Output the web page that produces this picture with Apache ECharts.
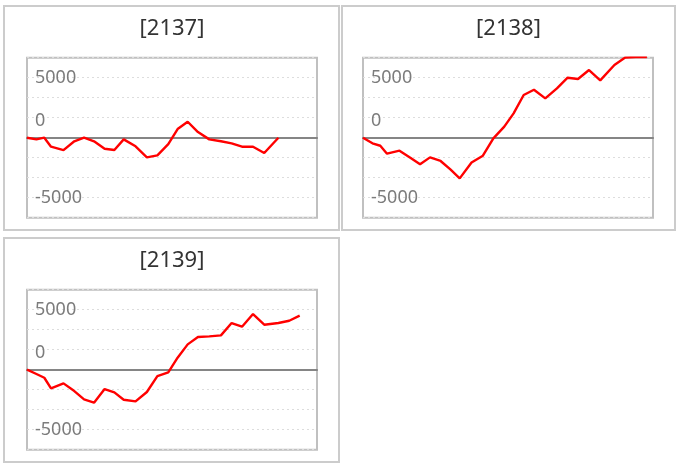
<!DOCTYPE html>
<html>
<head>
<meta charset="utf-8">
<script src="https://cdn.jsdelivr.net/npm/echarts@6/dist/echarts.min.js"></script>
<style>
html,body{margin:0;padding:0;background:#fff;}
#chart{width:679px;height:466px;}
</style>
</head>
<body>
<div id="chart"></div>
<script>
// ---- data ----
const panelTitles = ['[2137]', '[2138]', '[2139]'];
// shared trading-session positions along the time axis
const tradeTimes = [0, 0.9, 1.65, 2.29, 3.48, 4.51, 5.44, 6.39, 7.4, 8.33, 9.22, 10.35, 11.43, 12.43, 13.47, 14.36, 15.32, 16.3, 17.38, 18.49, 19.51, 20.5, 21.55, 22.62, 23.97, 25.0, 26.0, 27.07];
const s2137 = [0, -140, 0, -750, -1030, -300, 0, -300, -920, -1030, -140, -720, -1640, -1470, -530, 720, 1330, 470, -140, -300, -470, -750, -750, -1280, 0];
const s2138 = [0, -470, -670, -1330, -1080, -1670, -2220, -1640, -1940, -2640, -3390, -2060, -1500, -60, 920, 2030, 3560, 4000, 3280, 4110, 5000, 4890, 5640, 4780, 6060, 6680, 6730, 6730];
const s2139 = [0, -360, -670, -1560, -1140, -1780, -2470, -2750, -1610, -1890, -2500, -2640, -1860, -530, -220, 1000, 2110, 2720, 2780, 2860, 3890, 3580, 4640, 3750, 3890, 4080, 4500];
const seriesList = [s2137, s2138, s2139];
const yTickLabels = [5000, 0, -5000];

// ---- layout ----
const Y_MAX = 20000 / 3;
const Y_INT = 5000 / 3;
const X_MAX = 27.65;
const panels = [
  {x: 4, y: 6, w: 335, h: 224, gl: 27, gt: 57.7, tx: 172, ty: 28.5},
  {x: 342, y: 6, w: 333, h: 224, gl: 363, gt: 57.7, tx: 508.5, ty: 28.5},
  {x: 4, y: 238, w: 335, h: 224, gl: 27, gt: 289.7, tx: 172, ty: 260.5}
];
const FONT = '"Noto Sans", sans-serif';

const chart = echarts.init(document.getElementById('chart'), null, {renderer: 'canvas'});
const grid = [], xAxis = [], yAxis = [], series = [], graphic = [];
panels.forEach((p, i) => {
  graphic.push({type: 'rect', shape: {x: p.x, y: p.y, width: p.w, height: p.h},
    style: {fill: 'none', stroke: '#cccccc', lineWidth: 2}, z: -1});
  graphic.push({type: 'text', x: p.tx, y: p.ty,
    style: {text: panelTitles[i], fill: '#333333', font: '22px ' + FONT, textAlign: 'center', textVerticalAlign: 'middle'}});
  grid.push({left: p.gl, top: p.gt, width: 290, height: 160, show: true,
    borderColor: '#c0c0c0', borderWidth: 2, backgroundColor: 'transparent', containLabel: false});
  xAxis.push({type: 'value', gridIndex: i, min: 0, max: X_MAX,
    axisLine: {show: true, onZero: true, lineStyle: {color: '#858585', width: 2.2}},
    axisTick: {show: false}, axisLabel: {show: false}, splitLine: {show: false}});
  yAxis.push({type: 'value', gridIndex: i, min: -Y_MAX, max: Y_MAX, interval: Y_INT,
    axisLine: {show: false}, axisTick: {show: false},
    splitLine: {show: true, lineStyle: {color: '#dddddd', type: [2, 3], width: 1.2}},
    axisLabel: {show: true, inside: true, margin: 8, color: '#7c7c7c', fontSize: 18, fontFamily: FONT,
      showMinLabel: true, showMaxLabel: true,
      formatter: function (v) {
        const r = Math.round(v);
        if (!yTickLabels.includes(r)) return '';
        if (r === 0) return '{z|0}';
        return String(r);
      },
      rich: {z: {color: '#7c7c7c', fontSize: 18, fontFamily: FONT, padding: [0, 0, 34, 0]}}
    }});
  series.push({type: 'line', xAxisIndex: i, yAxisIndex: i,
    data: seriesList[i].map((v, k) => [tradeTimes[k], v]),
    symbol: 'none', clip: true, lineStyle: {color: '#ff0000', width: 2.4}, itemStyle: {color: '#ff0000'}});
});

chart.setOption({animation: false, backgroundColor: '#ffffff', grid, xAxis, yAxis, series, graphic});
</script>
</body>
</html>
